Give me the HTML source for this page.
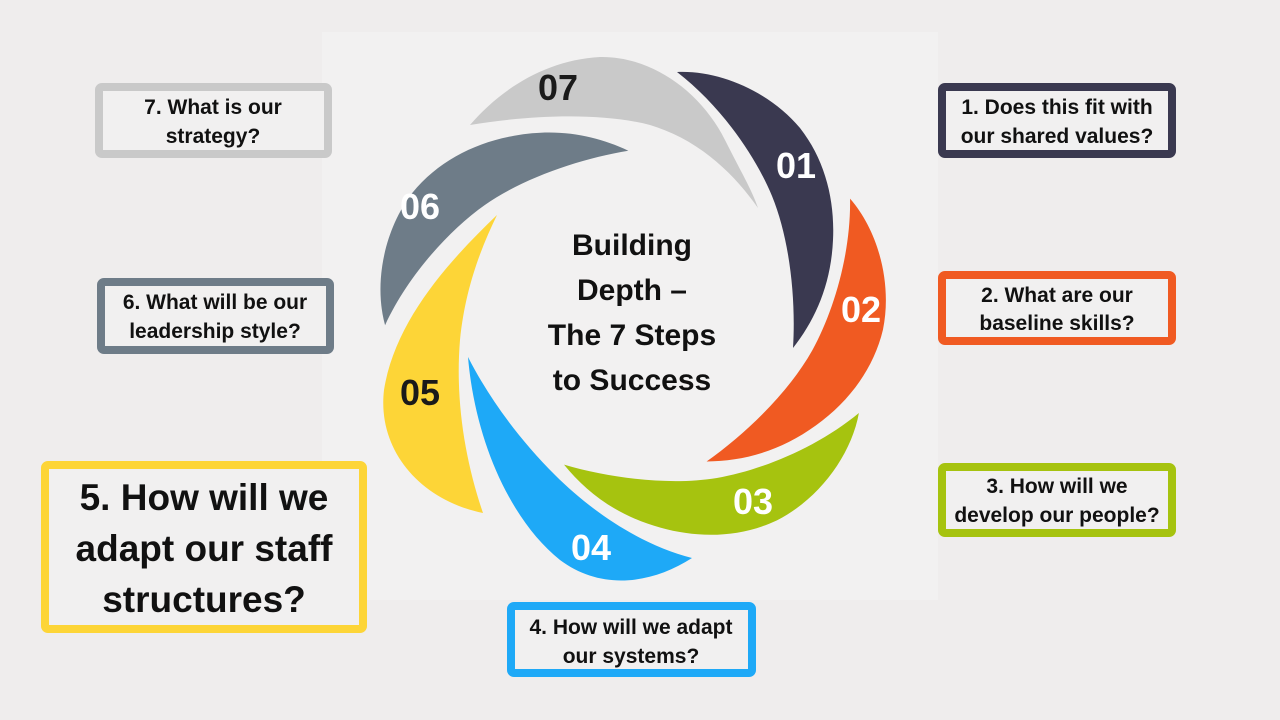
<!DOCTYPE html>
<html>
<head>
<meta charset="utf-8">
<style>
html,body{margin:0;padding:0;background:#efeded;}
body{width:1280px;height:720px;overflow:hidden;}
svg{display:block;}
text{font-family:"Liberation Sans",Arial,sans-serif;font-weight:bold;}
</style>
</head>
<body>
<svg width="1280" height="720" viewBox="0 0 1280 720" xmlns="http://www.w3.org/2000/svg">
  <rect x="0" y="0" width="1280" height="720" fill="#efeded"/>
  <rect x="322" y="32" width="616" height="568" fill="#f2f1f1"/>

  <defs>
    <path id="petal" d="M677,72 C720,70 770,92 800,128 C825,160 835,200 833,240 C831,285 815,320 793,348 C796,300 790,240 772,196 C755,155 720,105 677,72 Z"/>
  </defs>

  <!-- petals -->
  <use href="#petal" fill="#3a3950"/>
  <use href="#petal" fill="#f05a22" transform="rotate(51.4286 632 315)"/>
  <use href="#petal" fill="#a6c30f" transform="rotate(102.857 632 315)"/>
  <!-- 04 blue (custom) -->
  <path fill="#1ea9f7" d="M468,357 C475,440 510,520 560,560 C600,590 650,585 692,558 C640,545 590,510 555,475 C520,440 490,400 468,357 Z"/>
  <!-- 05 yellow (custom) -->
  <path fill="#fdd537" d="M497,215 C450,260 395,320 384,390 C377,450 420,500 483,513 C465,460 455,400 460,340 C465,290 480,250 497,215 Z"/>
  <use href="#petal" fill="#6e7c88" transform="rotate(257.143 632 315)"/>
  <!-- 07 light gray (custom) -->
  <path fill="#c9c9c9" d="M470,125 C500,90 545,60 600,57 C650,56 700,90 725,140 C740,170 752,190 758,208 C735,175 700,140 650,125 C600,112 530,115 470,125 Z"/>

  <!-- petal numbers -->
  <g font-size="36" text-anchor="middle">
    <text x="558" y="100" fill="#1a1a1a">07</text>
    <text x="796" y="178" fill="#ffffff">01</text>
    <text x="861" y="322" fill="#ffffff">02</text>
    <text x="753" y="514" fill="#ffffff">03</text>
    <text x="591" y="560" fill="#ffffff">04</text>
    <text x="420" y="405" fill="#1a1a1a">05</text>
    <text x="420" y="219" fill="#ffffff">06</text>
  </g>

  <!-- center title -->
  <g font-size="30" text-anchor="middle" fill="#111">
    <text x="632" y="255">Building</text>
    <text x="632" y="300">Depth –</text>
    <text x="632" y="345">The 7 Steps</text>
    <text x="632" y="390">to Success</text>
  </g>

  <!-- boxes -->
  <g fill="#f1f0f0" stroke-width="8">
    <rect x="942" y="87" width="230" height="67" rx="3" stroke="#3a3950"/>
    <rect x="942" y="275" width="230" height="66" rx="3" stroke="#f05a22"/>
    <rect x="942" y="467" width="230" height="66" rx="3" stroke="#a6c30f"/>
    <rect x="511" y="606" width="241" height="67" rx="3" stroke="#1ea9f7"/>
    <rect x="45" y="465" width="318" height="164" rx="3" stroke="#fdd537"/>
    <rect x="101" y="282" width="229" height="68" rx="3" stroke="#6e7c88"/>
    <rect x="99" y="87" width="229" height="67" rx="3" stroke="#c9c9c9"/>
  </g>

  <!-- box texts -->
  <g font-size="21" text-anchor="middle" fill="#111">
    <text x="1057" y="114">1. Does this fit with</text>
    <text x="1057" y="143">our shared values?</text>

    <text x="1057" y="302">2. What are our</text>
    <text x="1057" y="330">baseline skills?</text>

    <text x="1057" y="493">3. How will we</text>
    <text x="1057" y="522">develop our people?</text>

    <text x="631" y="634">4. How will we adapt</text>
    <text x="631" y="663">our systems?</text>

    <text x="215" y="309">6. What will be our</text>
    <text x="215" y="338">leadership style?</text>

    <text x="213" y="114">7. What is our</text>
    <text x="213" y="143">strategy?</text>
  </g>

  <g font-size="37" text-anchor="middle" fill="#111">
    <text x="204" y="510">5. How will we</text>
    <text x="204" y="561">adapt our staff</text>
    <text x="204" y="612">structures?</text>
  </g>
</svg>
</body>
</html>
